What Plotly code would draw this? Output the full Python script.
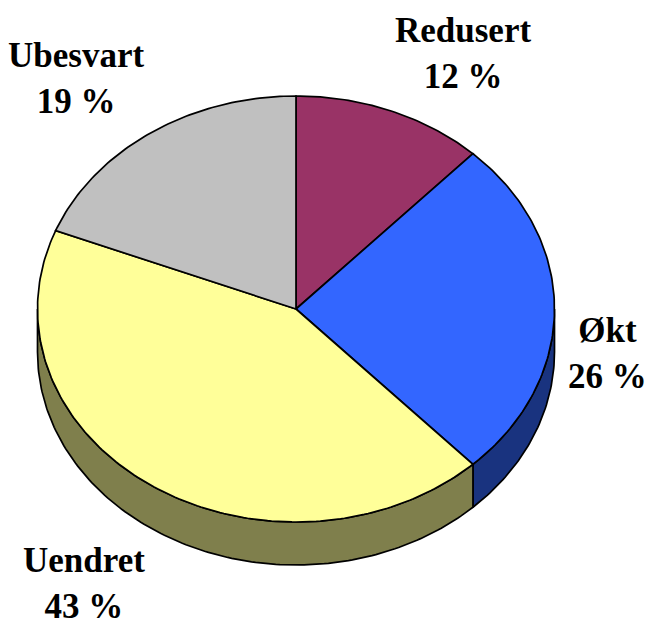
import math
import plotly.graph_objects as go

categories = ["Redusert", "Økt", "Uendret", "Ubesvart"]
values = [12, 26, 43, 19]
top_colors = ["#993366", "#3366FF", "#FFFF99", "#C0C0C0"]
side_colors = ["#4C1933", "#19337F", "#7F7F4C", "#606060"]
label_pos = [(463, 53), (607, 353), (84, 583), (76, 78)]

CX, CY, RX, RY, DEPTH = 296, 309, 258.5, 213, 43


def pt(pct, dy=0):
    a = 2 * math.pi * pct / 100
    return CX + RX * math.sin(a), CY - RY * math.cos(a) + dy


def arc(p0, p1, dy=0):
    n = max(2, int(abs(p1 - p0) * 4))
    return [pt(p0 + (p1 - p0) * i / n, dy) for i in range(n + 1)]


fig = go.Figure()
starts = []
s = 0
for v in values:
    starts.append(s)
    s += v

# side walls: only the visible front half (25% to 75% of the turn)
for st, v, c in zip(starts, values, side_colors):
    a, b = max(st, 25), min(st + v, 75)
    if b <= a:
        continue
    pts = arc(a, b) + arc(b, a, DEPTH)
    pts.append(pts[0])
    fig.add_trace(go.Scatter(x=[p[0] for p in pts], y=[p[1] for p in pts], mode="lines",
                             fill="toself", fillcolor=c, line=dict(color="black", width=1.7),
                             hoverinfo="skip", showlegend=False))

# top slices
for st, v, c, name in zip(starts, values, top_colors, categories):
    pts = [(CX, CY)] + arc(st, st + v) + [(CX, CY)]
    fig.add_trace(go.Scatter(x=[p[0] for p in pts], y=[p[1] for p in pts], mode="lines",
                             fill="toself", fillcolor=c, line=dict(color="black", width=1.7),
                             name=name, showlegend=False))

for name, v, (x, y) in zip(categories, values, label_pos):
    fig.add_annotation(x=x, y=y, text=f"<b>{name}</b><br><b>{v} %</b>", showarrow=False, align="center",
                       font=dict(family="Liberation Serif", size=35, color="black"))

fig.update_layout(width=649, height=619, margin=dict(l=0, r=0, t=0, b=0),
                  paper_bgcolor="white", plot_bgcolor="white",
                  xaxis=dict(range=[0, 649], visible=False),
                  yaxis=dict(range=[619, 0], visible=False))
fig.write_html("out.html", config={"displayModeBar": False},
               post_script="document.body.style.margin='0';document.body.style.overflow='hidden';")
